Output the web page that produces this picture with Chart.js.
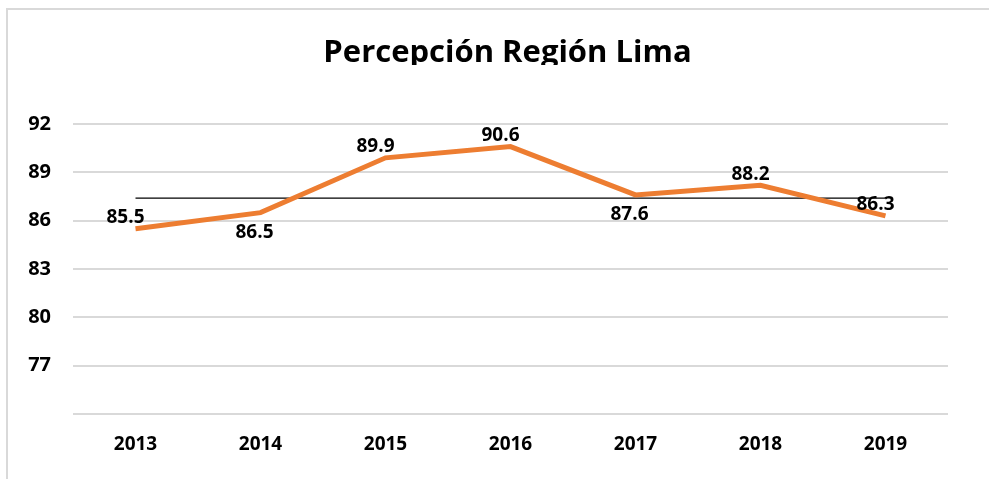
<!DOCTYPE html>
<html>
<head>
<meta charset="utf-8">
<script src="https://cdn.jsdelivr.net/npm/chart.js@4/dist/chart.umd.min.js"></script>
<style>
  html, body { margin: 0; padding: 0; background: #fff; }
  #frame { position: absolute; left: 6px; top: 8px; width: 990px; height: 480px;
           border-left: 2px solid #d9d9d9; border-top: 2px solid #d9d9d9; }
  #chart { position: absolute; left: 0; top: 0; }
</style>
</head>
<body>
<div id="frame"></div>
<canvas id="chart" width="989" height="479"></canvas>
<script>
// data
const years = ['2013', '2014', '2015', '2016', '2017', '2018', '2019'];
const perception = [85.5, 86.5, 89.9, 90.6, 87.6, 88.2, 86.3];
const referenceLine = [87.4, 87.4, 87.4, 87.4, 87.4, 87.4, 87.4];
const yTickValues = [74, 77, 80, 83, 86, 89, 92];
const titleText = 'Percepción Región Lima';

// where each value label sits relative to its point
const labelPlacement = ['above', 'below', 'above', 'above', 'below', 'above', 'above'];

const FONT = '"Open Sans", "DejaVu Sans", sans-serif';

const clippedTitle = {
    id: 'clippedTitle',
    afterDraw(chart) {
        const ctx = chart.ctx;
        const area = chart.chartArea;
        ctx.save();
        ctx.beginPath();
        ctx.rect(0, 0, chart.width, 65);
        ctx.clip();
        ctx.font = 'bold 31px ' + FONT;
        ctx.fillStyle = '#000';
        ctx.textAlign = 'center';
        ctx.textBaseline = 'alphabetic';
        ctx.fillText(titleText, (area.left + area.right) / 2 - 3, 62);
        ctx.restore();
    }
};

const pointLabels = {
    id: 'pointLabels',
    afterDatasetsDraw(chart) {
        const ctx = chart.ctx;
        const meta = chart.getDatasetMeta(0);
        ctx.save();
        ctx.font = 'bold 19px ' + FONT;
        ctx.fillStyle = '#000';
        ctx.textAlign = 'center';
        ctx.textBaseline = 'middle';
        meta.data.forEach((pt, i) => {
            const below = labelPlacement[i] === 'below';
            ctx.fillText(perception[i].toFixed(1), pt.x - (below ? 6 : 10), pt.y + (below ? 20 : -11));
        });
        ctx.restore();
    }
};

new Chart(document.getElementById('chart').getContext('2d'), {
    type: 'line',
    data: {
        labels: years,
        datasets: [{
            data: perception,
            borderColor: '#ED7D31',
            borderWidth: 5,
            pointRadius: 0,
            tension: 0,
            fill: false
        }, {
            data: referenceLine,
            borderColor: '#000',
            borderWidth: 1.4,
            pointRadius: 0,
            tension: 0,
            fill: false
        }]
    },
    options: {
        responsive: false,
        animation: false,
        layout: { padding: { top: 124, right: 41, left: 0, bottom: 0 } },
        plugins: {
            legend: { display: false },
            tooltip: { enabled: false },
            title: { display: false }
        },
        scales: {
            x: {
                offset: true,
                grid: { display: false, drawTicks: false },
                border: { display: false },
                ticks: { color: '#000', padding: 19, font: { family: FONT, size: 19, weight: 'bold' } },
                afterFit(scale) { scale.height = 65; }
            },
            y: {
                min: 74,
                max: 92,
                afterBuildTicks(scale) { scale.ticks = yTickValues.map(v => ({ value: v })); },
                grid: { color: '#d9d9d9', lineWidth: 2, drawTicks: false },
                border: { display: false },
                ticks: {
                    color: '#000',
                    padding: 22,
                    font: { family: FONT, size: 20, weight: 'bold' },
                    callback: v => (v === 74 ? '' : v)
                },
                afterFit(scale) { scale.width = 73; }
            }
        }
    },
    plugins: [clippedTitle, pointLabels]
});
</script>
</body>
</html>
